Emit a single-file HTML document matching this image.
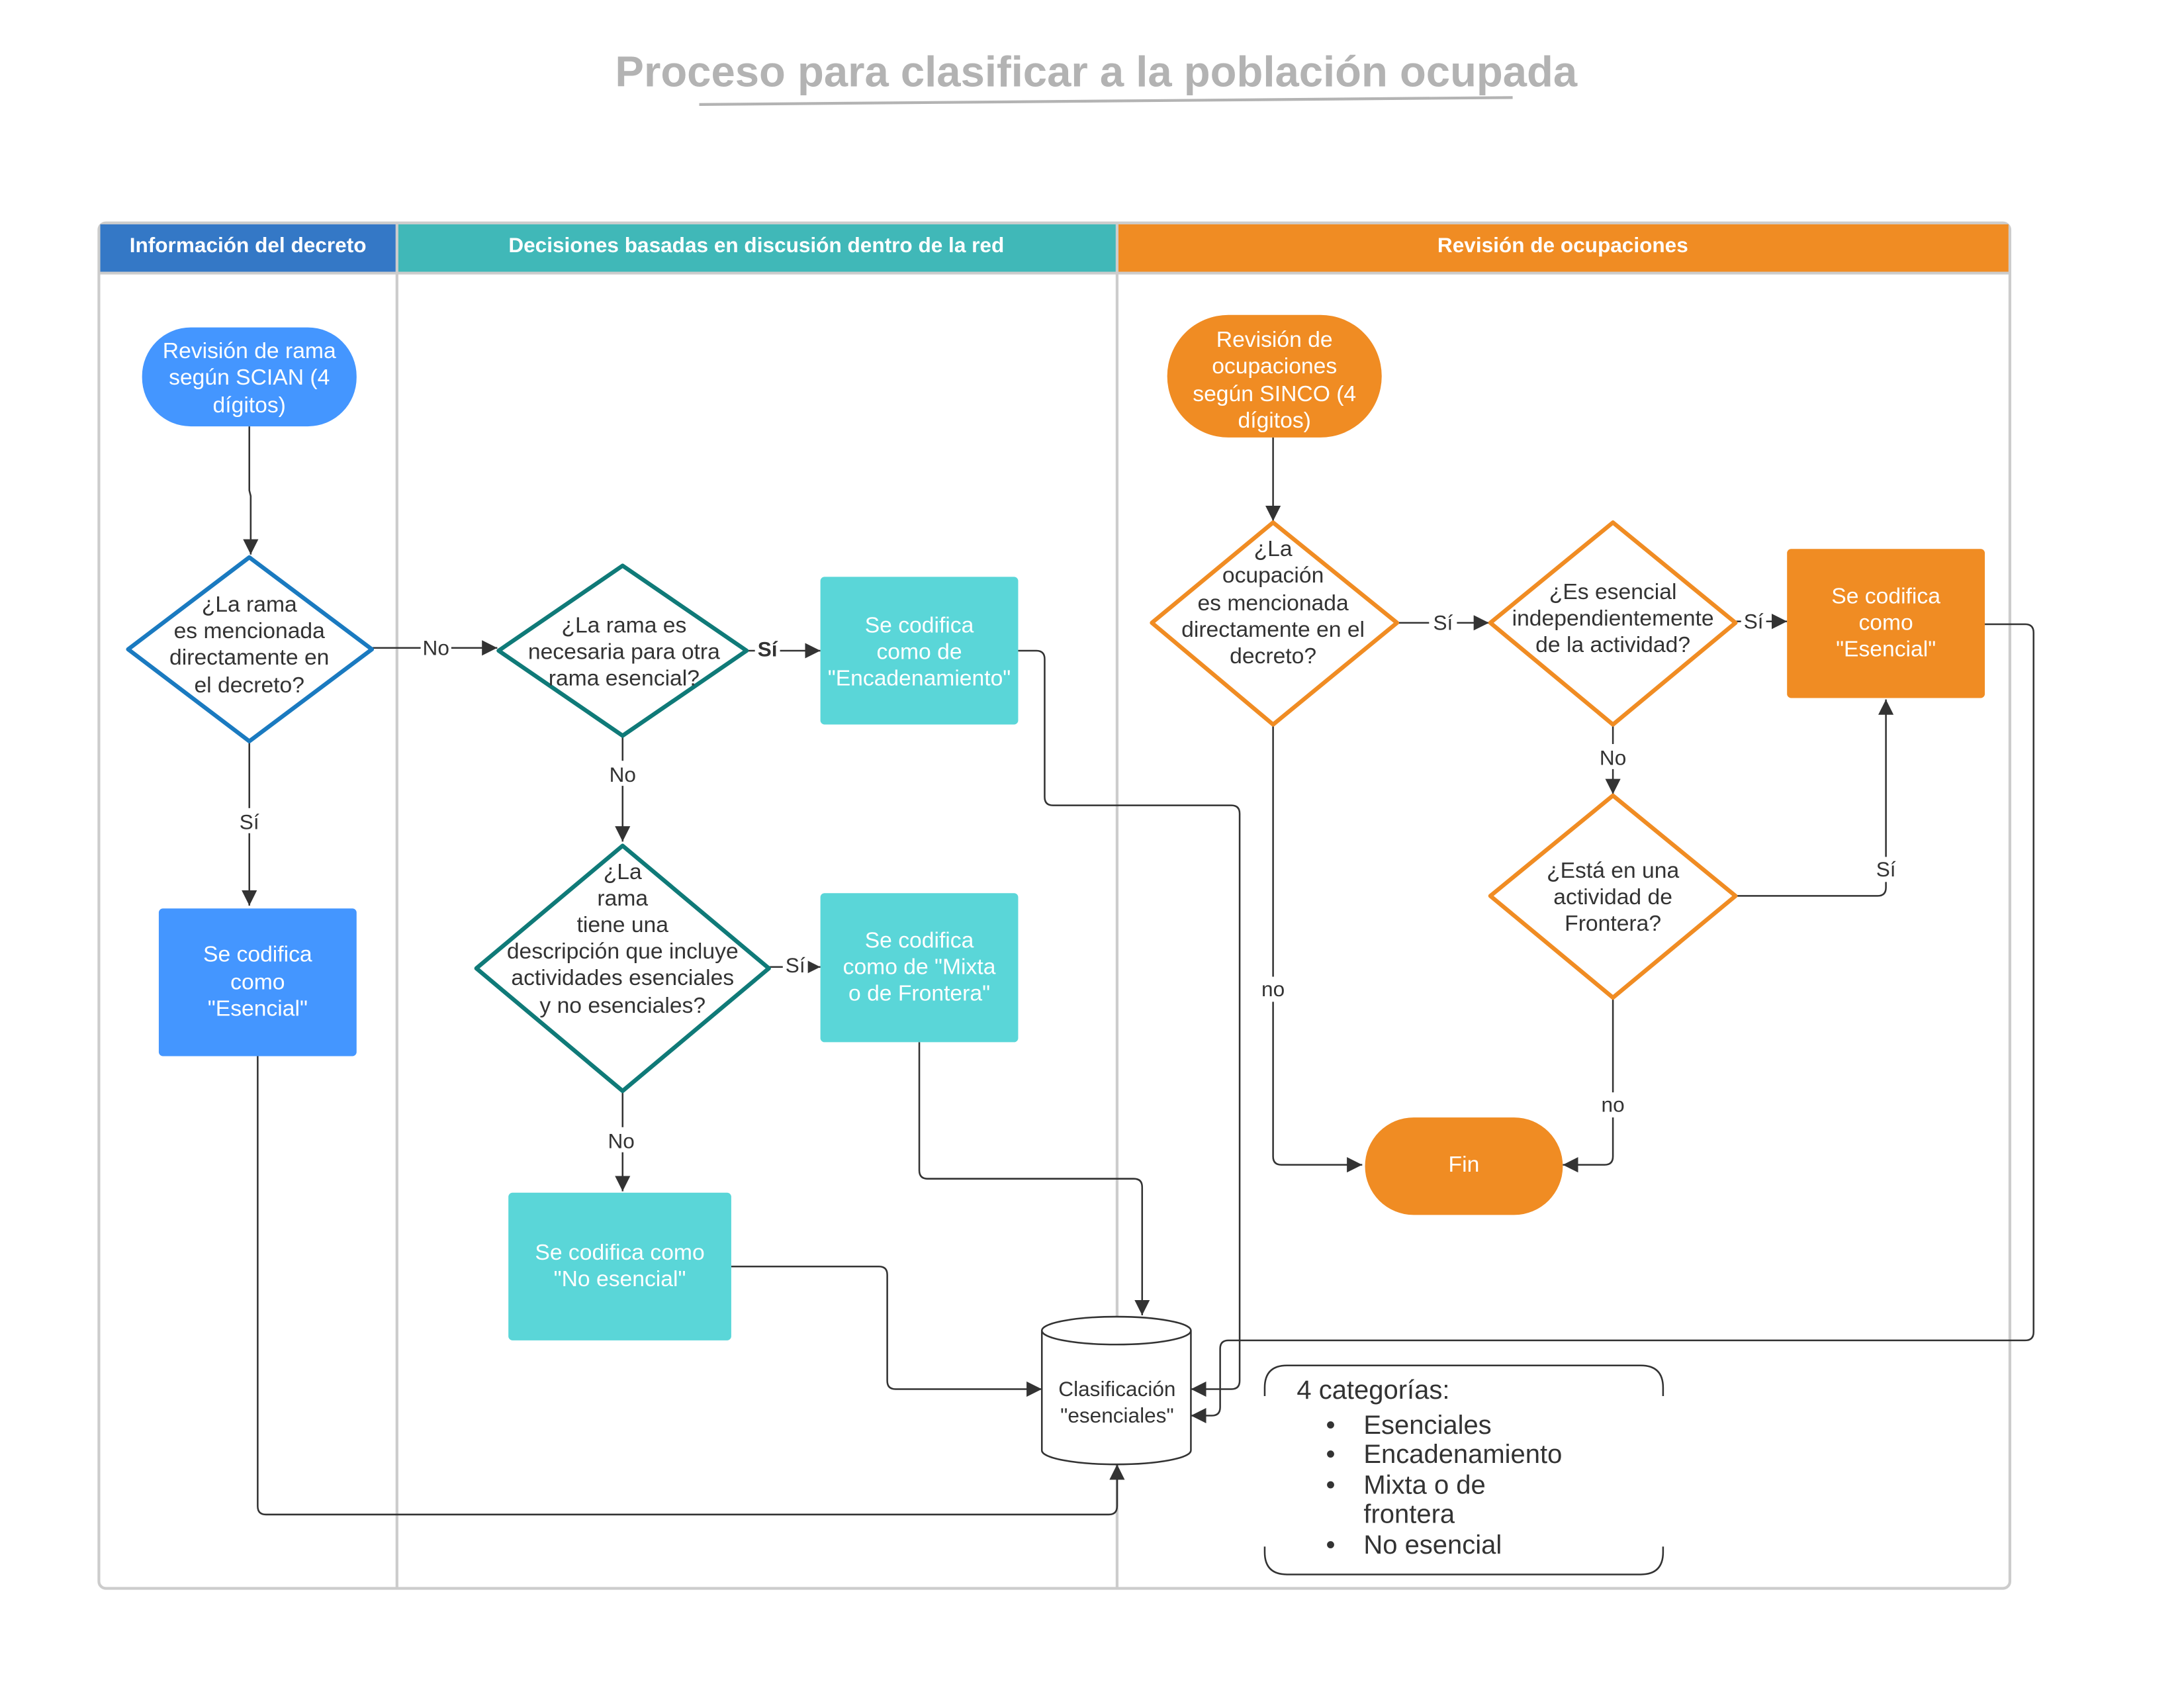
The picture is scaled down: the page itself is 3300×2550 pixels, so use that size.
<!DOCTYPE html>
<html><head><meta charset="utf-8"><style>
html,body{margin:0;padding:0;background:#fff;}
svg{display:block;}
text{font-family:"Liberation Sans",sans-serif;}
</style></head><body>
<svg width="3300" height="2550" viewBox="0 0 1568 1211.5" preserveAspectRatio="none" xmlns="http://www.w3.org/2000/svg">
<defs>
<marker id="a" viewBox="0 0 10 10" refX="10" refY="5" markerWidth="11" markerHeight="11" markerUnits="userSpaceOnUse" orient="auto"><path d="M0,0 L10,5 L0,10 z" fill="#333"/></marker>
</defs>
<rect width="1568" height="1212" fill="#fff"/>
<!-- Title -->
<text x="787" y="62" text-anchor="middle" font-size="31" font-weight="bold" fill="#b3b3b3">Proceso para clasificar a la población ocupada</text>
<line x1="502" y1="75" x2="1086" y2="70" stroke="#b3b3b3" stroke-width="2"/>
<!-- Pool -->
<rect x="71" y="160" width="1372" height="980" rx="5" fill="#fff" stroke="#ccc" stroke-width="2"/>
<rect x="72" y="161" width="213" height="35" fill="#3478c6"/>
<rect x="285" y="161" width="517" height="35" fill="#40b8b8"/>
<rect x="802" y="161" width="640" height="35" fill="#f08c23"/>
<line x1="71" y1="196" x2="1443" y2="196" stroke="#ccc" stroke-width="2"/>
<line x1="285" y1="160" x2="285" y2="1140" stroke="#ccc" stroke-width="2"/>
<line x1="802" y1="160" x2="802" y2="1140" stroke="#ccc" stroke-width="2"/>
<g font-size="15" font-weight="bold" fill="#fff" text-anchor="middle">
<text x="178" y="181">Información del decreto</text>
<text x="543" y="181">Decisiones basadas en discusión dentro de la red</text>
<text x="1122" y="181">Revisión de ocupaciones</text>
</g>
<!-- connectors -->
<g fill="none" stroke="#333" stroke-width="1.2">
<path d="M179,306 V352 L180,356 V398" marker-end="url(#a)"/>
<path d="M267,465 H357" marker-end="url(#a)"/>
<path d="M179,532 V650" marker-end="url(#a)"/>
<path d="M536,467 H589" marker-end="url(#a)"/>
<path d="M447,528 V604" marker-end="url(#a)"/>
<path d="M552,694 H589" marker-end="url(#a)"/>
<path d="M447,783 V855" marker-end="url(#a)"/>
<path d="M731,467 H744 Q750,467 750,473 V572 Q750,578 756,578 H884 Q890,578 890,584 V991 Q890,997 884,997 H855" marker-end="url(#a)"/>
<path d="M660,748 V840 Q660,846 666,846 H814 Q820,846 820,852 V944" marker-end="url(#a)"/>
<path d="M525,909 H631 Q637,909 637,915 V991 Q637,997 643,997 H748" marker-end="url(#a)"/>
<path d="M185,758 V1081 Q185,1087 191,1087 H796 Q802,1087 802,1081 V1051" marker-end="url(#a)"/>
<path d="M1425,448 H1454 Q1460,448 1460,454 V956 Q1460,962 1454,962 H882 Q876,962 876,968 V1010 Q876,1016 870,1016 H855" marker-end="url(#a)"/>
<path d="M914,314 V374" marker-end="url(#a)"/>
<path d="M1003,447 H1069" marker-end="url(#a)"/>
<path d="M1246,446 H1283" marker-end="url(#a)"/>
<path d="M1158,520 V570" marker-end="url(#a)"/>
<path d="M1246,643 H1348 Q1354,643 1354,637 V502" marker-end="url(#a)"/>
<path d="M1158,716 V830 Q1158,836 1152,836 H1122" marker-end="url(#a)"/>
<path d="M914,520 V830 Q914,836 920,836 H978" marker-end="url(#a)"/>
</g>
<!-- edge labels -->
<g font-size="15" fill="#333" text-anchor="middle">
<rect x="302" y="456" width="22" height="18" fill="#fff"/><text x="313" y="470">No</text>
<rect x="168" y="580" width="22" height="18" fill="#fff"/><text x="179" y="595">Sí</text>
<rect x="542" y="458" width="18" height="18" fill="#fff"/><text x="551" y="471" font-weight="bold">Sí</text>
<rect x="435" y="546" width="24" height="18" fill="#fff"/><text x="447" y="561">No</text>
<rect x="562" y="685" width="18" height="18" fill="#fff"/><text x="571" y="698">Sí</text>
<rect x="435" y="809" width="24" height="18" fill="#fff"/><text x="446" y="824">No</text>
<rect x="1026" y="438" width="20" height="18" fill="#fff"/><text x="1036" y="452">Sí</text>
<rect x="1250" y="437" width="18" height="18" fill="#fff"/><text x="1259" y="451">Sí</text>
<rect x="1146" y="534" width="24" height="18" fill="#fff"/><text x="1158" y="549">No</text>
<rect x="1343" y="615" width="22" height="18" fill="#fff"/><text x="1354" y="629">Sí</text>
<rect x="1147" y="784" width="22" height="18" fill="#fff"/><text x="1158" y="798">no</text>
<rect x="903" y="701" width="22" height="18" fill="#fff"/><text x="914" y="715">no</text>
</g>
<!-- Nodes -->
<g font-size="16" text-anchor="middle">
<rect x="102" y="235" width="154" height="71" rx="35" fill="#4496ff"/>
<g fill="#fff"><text x="179" y="257">Revisión de rama</text><text x="179" y="276">según SCIAN (4</text><text x="179" y="296">dígitos)</text></g>

<path d="M179,400 L267,466 L179,532 L92,466 Z" fill="#fff" stroke="#1a7ac0" stroke-width="3" stroke-linejoin="round"/>
<g fill="#333"><text x="179" y="439">¿La rama</text><text x="179" y="458">es mencionada</text><text x="179" y="477">directamente en</text><text x="179" y="497">el decreto?</text></g>

<rect x="114" y="652" width="142" height="106" rx="3" fill="#4496ff"/>
<g fill="#fff"><text x="185" y="690">Se codifica</text><text x="185" y="710">como</text><text x="185" y="729">"Esencial"</text></g>

<path d="M447,406 L536,467 L447,528 L358,467 Z" fill="#fff" stroke="#0f7a78" stroke-width="3" stroke-linejoin="round"/>
<g fill="#333"><text x="448" y="454">¿La rama es</text><text x="448" y="473">necesaria para otra</text><text x="448" y="492">rama esencial?</text></g>

<rect x="589" y="414" width="142" height="106" rx="3" fill="#5ad6d8"/>
<g fill="#fff"><text x="660" y="454">Se codifica</text><text x="660" y="473">como de</text><text x="660" y="492">"Encadenamiento"</text></g>

<path d="M447,607 L552,695 L447,783 L342,695 Z" fill="#fff" stroke="#0f7a78" stroke-width="3" stroke-linejoin="round"/>
<g fill="#333"><text x="447" y="631">¿La</text><text x="447" y="650">rama</text><text x="447" y="669">tiene una</text><text x="447" y="688">descripción que incluye</text><text x="447" y="707">actividades esenciales</text><text x="447" y="727">y no esenciales?</text></g>

<rect x="589" y="641" width="142" height="107" rx="3" fill="#5ad6d8"/>
<g fill="#fff"><text x="660" y="680">Se codifica</text><text x="660" y="699">como de "Mixta</text><text x="660" y="718">o de  Frontera"</text></g>

<rect x="365" y="856" width="160" height="106" rx="3" fill="#5ad6d8"/>
<g fill="#fff"><text x="445" y="904">Se codifica como</text><text x="445" y="923">"No esencial"</text></g>

<path d="M748,955 V1041 A53.5,10 0 0 0 855,1041 V955 A53.5,10 0 0 0 748,955 Z" fill="#fff" stroke="#333" stroke-width="1.2"/>
<path d="M748,955 A53.5,10 0 0 0 855,955" fill="none" stroke="#333" stroke-width="1.2"/>
<g fill="#333" font-size="15"><text x="802" y="1002">Clasificación</text><text x="802" y="1021">"esenciales"</text></g>

<rect x="838" y="226" width="154" height="88" rx="44" fill="#f08c23"/>
<g fill="#fff"><text x="915" y="249">Revisión de</text><text x="915" y="268">ocupaciones</text><text x="915" y="288">según SINCO (4</text><text x="915" y="307">dígitos)</text></g>

<path d="M914,375 L1003,447 L914,520 L827,447 Z" fill="#fff" stroke="#f08c23" stroke-width="3" stroke-linejoin="round"/>
<g fill="#333"><text x="914" y="399">¿La</text><text x="914" y="418">ocupación</text><text x="914" y="438">es mencionada</text><text x="914" y="457">directamente en el</text><text x="914" y="476">decreto?</text></g>

<path d="M1158,375 L1246,447 L1158,520 L1070,447 Z" fill="#fff" stroke="#f08c23" stroke-width="3" stroke-linejoin="round"/>
<g fill="#333"><text x="1158" y="430">¿Es esencial</text><text x="1158" y="449">independientemente</text><text x="1158" y="468">de la actividad?</text></g>

<rect x="1283" y="394" width="142" height="107" rx="3" fill="#f08c23"/>
<g fill="#fff"><text x="1354" y="433">Se codifica</text><text x="1354" y="452">como</text><text x="1354" y="471">"Esencial"</text></g>

<path d="M1158,571 L1246,643 L1158,716 L1070,643 Z" fill="#fff" stroke="#f08c23" stroke-width="3" stroke-linejoin="round"/>
<g fill="#333"><text x="1158" y="630">¿Está en una</text><text x="1158" y="649">actividad de</text><text x="1158" y="668">Frontera?</text></g>

<rect x="980" y="802" width="142" height="70" rx="35" fill="#f08c23"/>
<text x="1051" y="841" fill="#fff">Fin</text>
</g>
<!-- Legend -->
<g fill="none" stroke="#333" stroke-width="1.2">
<path d="M908,1002 V996 Q908,980 924,980 H1178 Q1194,980 1194,996 V1002"/>
<path d="M908,1110 V1114 Q908,1130 924,1130 H1178 Q1194,1130 1194,1114 V1110"/>
</g>
<g font-size="19" fill="#333">
<text x="931" y="1004">4 categorías:</text>
<text x="952" y="1029">•</text><text x="979" y="1029">Esenciales</text>
<text x="952" y="1050">•</text><text x="979" y="1050">Encadenamiento</text>
<text x="952" y="1072">•</text><text x="979" y="1072">Mixta o de</text>
<text x="979" y="1093">frontera</text>
<text x="952" y="1115">•</text><text x="979" y="1115">No esencial</text>
</g>
</svg>
</body></html>
